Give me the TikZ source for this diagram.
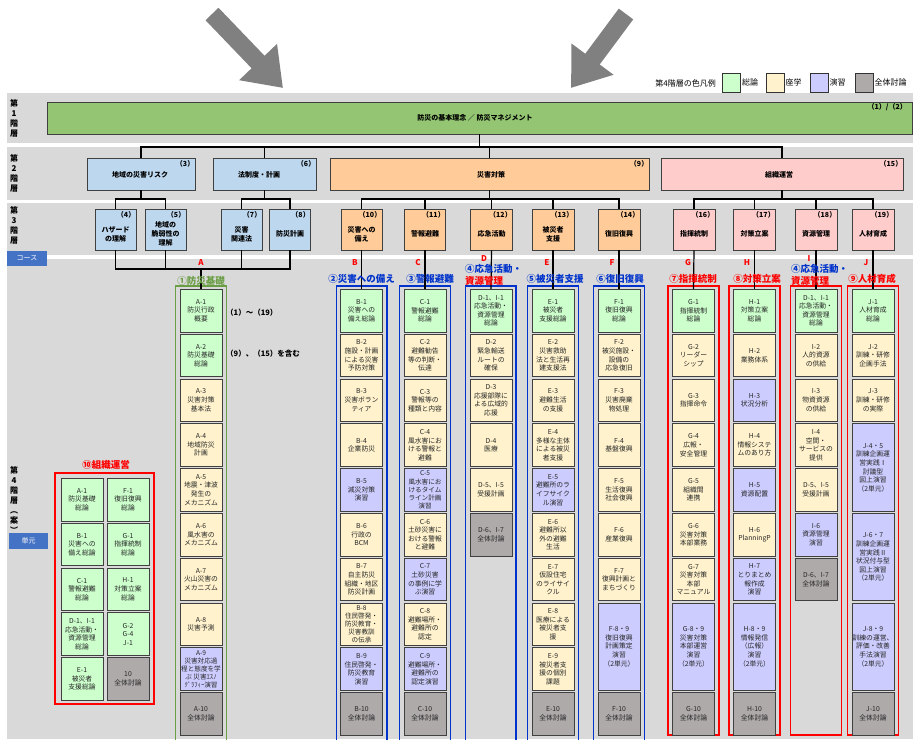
\documentclass[tikz,border=0pt]{standalone}
\usepackage{fontspec}
\setmainfont{Noto Sans CJK JP}
\usetikzlibrary{arrows.meta}

\definecolor{kaiso}{HTML}{93C572}
\definecolor{chiiki}{HTML}{BDD7EE}
\definecolor{saigai}{HTML}{FFCC99}
\definecolor{soshiki}{HTML}{FFCCCC}
\definecolor{sogo}{HTML}{CCFFCC}
\definecolor{zagaku}{HTML}{FFF2CC}
\definecolor{ensyu}{HTML}{CCCCFF}
\definecolor{togi}{HTML}{AEAAAA}
\definecolor{band}{HTML}{D9D9D9}
\definecolor{course}{HTML}{4472C4}
\definecolor{midori}{HTML}{6A9E45}
\definecolor{ao}{HTML}{0033CC}
\definecolor{aka}{HTML}{FF0000}

\newcommand{\unitfont}{\fontsize{6.8}{8.6}\selectfont}
\newcommand{\tightfont}{\fontsize{6.6}{8.1}\selectfont}
\newcommand{\ytop}{289}
% one lecture slot / two lecture slots
\newcommand{\koma}[5]{\node[unitbox,#4] (#1) at (#2,{\ytop+(#3-1)*44.8}) {#5};}
\newcommand{\komaw}[5]{\node[unitbox,#4,minimum height=87.3pt] (#1) at (#2,{\ytop+(#3-1)*44.8}) {#5};}

\tikzset{
  tier/.style={draw=black!75, line width=0.9pt, inner sep=0pt},
  unitbox/.style={draw=black!75, line width=1pt, minimum width=42pt, minimum height=42.5pt,
    inner sep=0pt, anchor=north, align=center, font=\unitfont, text=black!85},
  tree/.style={line width=1.2pt},
  frame/.style={line width=1.4pt},
  headtext/.style={font=\fontsize{7}{9}\selectfont\bfseries, align=center, inner sep=0pt},
  numtext/.style={font=\fontsize{7}{9}\selectfont\bfseries, inner sep=0pt, anchor=north east},
  ttl/.style={font=\fontsize{9.5}{11}\selectfont\bfseries, inner sep=0pt},
  letter/.style={font=\fontsize{8}{9}\selectfont\bfseries, text=aka, inner sep=0pt},
  rowlbl/.style={font=\fontsize{8}{10}\selectfont\bfseries, align=center, inner sep=0pt},
  tag/.style={fill=course, text=white, font=\fontsize{7}{8}\selectfont, inner sep=0pt},
  legtext/.style={font=\fontsize{8}{9}\selectfont, inner sep=1pt},
  legbox/.style={draw=black!80, line width=0.6pt, minimum width=18pt, minimum height=19pt, inner sep=0pt},
  note/.style={font=\fontsize{7.5}{9}\selectfont\bfseries, inner sep=0pt, anchor=west},
  bigarrow/.style={draw=gray, line width=18pt, -{Triangle[length=36pt,width=50pt]}}
}

\begin{document}
\begin{tikzpicture}[x=1pt,y=-1pt]
\useasboundingbox (0,0) rectangle (913,739);

% bands
\fill[band] (7,93) rectangle (913,143);
\fill[band] (7,147) rectangle (913,200);
\fill[band] (7,203) rectangle (913,255);
\fill[band] (7,259) rectangle (913,739);

% big arrows
\draw[bigarrow] (212,14) -- (283,88);
\draw[bigarrow] (626,14) -- (571,88);

% legend
\node[legtext, anchor=east] (leg) at (717,83) {第4階層の色凡例};
\node[legbox, fill=sogo] (leg1) at (731.5,82.5) {};
\node[legtext, anchor=west] (leg1t) at (leg1.east) {総論};
\node[legbox, fill=zagaku] (leg2) at (775,82.5) {};
\node[legtext, anchor=west] (leg2t) at (leg2.east) {座学};
\node[legbox, fill=ensyu] (leg3) at (819,82.5) {};
\node[legtext, anchor=west] (leg3t) at (leg3.east) {演習};
\node[legbox, fill=togi] (leg4) at (864,82.5) {};
\node[legtext, anchor=west] (leg4t) at (leg4.east) {全体討論};

% row labels
\node[rowlbl] (r1) at (14,118.5) {第\\1\\階\\層};
\node[rowlbl] (r2) at (14,173) {第\\2\\階\\層};
\node[rowlbl] (r3) at (14,225) {第\\3\\階\\層};
\node[rowlbl] (r4) at (14,500) {第\\4\\階\\層\\︵\\案\\︶};
\node[tag, minimum width=40pt, minimum height=15pt] (course) at (27,258.5) {コース};
\node[tag, minimum width=39pt, minimum height=16pt] (tangen) at (28.5,541) {単元};

% tier 1
\node[tier, fill=kaiso, minimum width=865pt, minimum height=32pt] (s1) at (479.5,118) {};
\node[headtext] (s1t) at (475,118) {防災の基本理念 ／ 防災マネジメント};
\node[numtext] (s1n) at (907,103) {（1）/（2）};

% tier 2
\node[tier, fill=chiiki, minimum width=108pt, minimum height=32pt] (s3) at (141,174) {};
\node[tier, fill=chiiki, minimum width=103pt, minimum height=32pt] (s6) at (264.5,174) {};
\node[tier, fill=saigai, minimum width=319pt, minimum height=32pt] (s9) at (489.5,174) {};
\node[tier, fill=soshiki, minimum width=242pt, minimum height=32pt] (s15) at (782,174) {};
\node[headtext] (s3t) at (140,175) {地域の災害リスク};
\node[headtext] (s6t) at (259,175) {法制度・計画};
\node[headtext] (s9t) at (491,175) {災害対策};
\node[headtext] (s15t) at (779,175) {組織運営};
\node[numtext] (s3n) at ([xshift=-1pt,yshift=-3pt]s3.north east) {（3）};
\node[numtext] (s6n) at ([xshift=-1pt,yshift=-3pt]s6.north east) {（6）};
\node[numtext] (s9n) at ([xshift=-1pt,yshift=-3pt]s9.north east) {（9）};
\node[numtext] (s15n) at ([xshift=-1pt,yshift=-3pt]s15.north east) {（15）};

% tier 3
\node[tier, fill=chiiki, minimum width=41pt, minimum height=41pt] (t4) at (115.5,229.5) {};
\node[tier, fill=chiiki, minimum width=41pt, minimum height=41pt] (t5) at (165.5,229.5) {};
\node[tier, fill=chiiki, minimum width=41pt, minimum height=41pt] (t7) at (241.5,229.5) {};
\node[tier, fill=chiiki, minimum width=41pt, minimum height=41pt] (t8) at (290,229.5) {};
\node[tier, fill=saigai, minimum width=41pt, minimum height=41pt] (t10) at (361.5,229.5) {};
\node[tier, fill=saigai, minimum width=41pt, minimum height=41pt] (t11) at (425,229.5) {};
\node[tier, fill=saigai, minimum width=42pt, minimum height=41pt] (t12) at (491.5,229.5) {};
\node[tier, fill=saigai, minimum width=42pt, minimum height=41pt] (t13) at (553,229.5) {};
\node[tier, fill=saigai, minimum width=42pt, minimum height=41pt] (t14) at (619,229.5) {};
\node[tier, fill=soshiki, minimum width=42pt, minimum height=41pt] (t16) at (694,229.5) {};
\node[tier, fill=soshiki, minimum width=42pt, minimum height=41pt] (t17) at (754.5,229.5) {};
\node[tier, fill=soshiki, minimum width=42pt, minimum height=41pt] (t18) at (816,229.5) {};
\node[tier, fill=soshiki, minimum width=42pt, minimum height=41pt] (t19) at (873,229.5) {};
\node[headtext] (t4t) at ([yshift=-4.5pt]t4.center) {ハザード\\の理解};
\node[headtext] (t5t) at ([yshift=-4.5pt]t5.center) {地域の\\脆弱性の\\理解};
\node[headtext] (t7t) at ([yshift=-4.5pt]t7.center) {災害\\関連法};
\node[headtext] (t8t) at ([yshift=-4.5pt]t8.center) {防災計画};
\node[headtext] (t10t) at ([yshift=-4.5pt]t10.center) {災害への\\備え};
\node[headtext] (t11t) at ([yshift=-4.5pt]t11.center) {警報避難};
\node[headtext] (t12t) at ([yshift=-4.5pt]t12.center) {応急活動};
\node[headtext] (t13t) at ([yshift=-4.5pt]t13.center) {被災者\\支援};
\node[headtext] (t14t) at ([yshift=-4.5pt]t14.center) {復旧復興};
\node[headtext] (t16t) at ([yshift=-4.5pt]t16.center) {指揮統制};
\node[headtext] (t17t) at ([yshift=-4.5pt]t17.center) {対策立案};
\node[headtext] (t18t) at ([yshift=-4.5pt]t18.center) {資源管理};
\node[headtext] (t19t) at ([yshift=-4.5pt]t19.center) {人材育成};
\node[numtext] (t4n) at ([xshift=-1pt,yshift=-3pt]t4.north east) {（4）};
\node[numtext] (t5n) at ([xshift=-1pt,yshift=-3pt]t5.north east) {（5）};
\node[numtext] (t7n) at ([xshift=-1pt,yshift=-3pt]t7.north east) {（7）};
\node[numtext] (t8n) at ([xshift=-1pt,yshift=-3pt]t8.north east) {（8）};
\node[numtext] (t10n) at ([xshift=-1pt,yshift=-3pt]t10.north east) {（10）};
\node[numtext] (t11n) at ([xshift=-1pt,yshift=-3pt]t11.north east) {（11）};
\node[numtext] (t12n) at ([xshift=-1pt,yshift=-3pt]t12.north east) {（12）};
\node[numtext] (t13n) at ([xshift=-1pt,yshift=-3pt]t13.north east) {（13）};
\node[numtext] (t14n) at ([xshift=-1pt,yshift=-3pt]t14.north east) {（14）};
\node[numtext] (t16n) at ([xshift=-1pt,yshift=-3pt]t16.north east) {（16）};
\node[numtext] (t17n) at ([xshift=-1pt,yshift=-3pt]t17.north east) {（17）};
\node[numtext] (t18n) at ([xshift=-1pt,yshift=-3pt]t18.north east) {（18）};
\node[numtext] (t19n) at ([xshift=-1pt,yshift=-3pt]t19.north east) {（19）};

% column frames
\draw[frame, draw=midori] (175.5,286) rectangle (226.5,741);
\draw[frame, draw=ao] (336.5,286) rectangle (387,741);
\draw[frame, draw=ao] (399.5,286) rectangle (450.5,741);
\draw[frame, draw=ao] (465.5,286) rectangle (516,741);
\draw[frame, draw=ao] (527.5,286) rectangle (578.5,741);
\draw[frame, draw=ao] (593.5,286) rectangle (644.5,741);
\draw[frame, draw=aka] (668,286) rectangle (719,735);
\draw[frame, draw=aka] (729,286) rectangle (780,735);
\draw[frame, draw=aka] (790.5,286) rectangle (841.5,735);
\draw[frame, draw=aka] (847.5,286) rectangle (898.5,735);
\draw[frame, draw=aka] (55,473) rectangle (154,704);

% units A--J
\koma{a1}{201}{1}{fill=sogo}{A-1\\防災行政\\概要}
\koma{a2}{201}{2}{fill=sogo}{A-2\\防災基礎\\総論}
\koma{a3}{201}{3}{fill=zagaku}{A-3\\災害対策\\基本法}
\koma{a4}{201}{4}{fill=zagaku}{A-4\\地域防災\\計画}
\koma{a5}{201}{5}{fill=zagaku}{A-5\\地震・津波\\発生の\\メカニズム}
\koma{a6}{201}{6}{fill=zagaku}{A-6\\風水害の\\メカニズム}
\koma{a7}{201}{7}{fill=zagaku}{A-7\\火山災害の\\メカニズム}
\koma{a8}{201}{8}{fill=zagaku}{A-8\\災害予測}
\koma{a9}{201}{9}{fill=ensyu,font=\tightfont}{A-9\\災害対応過\\程と態度を学\\ぶ 災害ｴｽﾉ\\ｸﾞﾗﾌｨｰ演習}
\koma{a10}{201}{10}{fill=togi}{A-10\\全体討論}

\koma{b1}{361.5}{1}{fill=sogo}{B-1\\災害への\\備え総論}
\koma{b2}{361.5}{2}{fill=zagaku}{B-2\\施設・計画\\による災害\\予防対策}
\koma{b3}{361.5}{3}{fill=zagaku}{B-3\\災害ボラン\\ティア}
\koma{b4}{361.5}{4}{fill=zagaku}{B-4\\企業防災}
\koma{b5}{361.5}{5}{fill=ensyu}{B-5\\減災対策\\演習}
\koma{b6}{361.5}{6}{fill=zagaku}{B-6\\行政の\\BCM}
\koma{b7}{361.5}{7}{fill=zagaku}{B-7\\自主防災\\組織・地区\\防災計画}
\koma{b8}{361.5}{8}{fill=zagaku,font=\tightfont}{B-8\\住民啓発・\\防災教育・\\災害教訓\\の伝承}
\koma{b9}{361.5}{9}{fill=ensyu}{B-9\\住民啓発・\\防災教育\\演習}
\koma{b10}{361.5}{10}{fill=togi}{B-10\\全体討論}

\koma{c1}{425}{1}{fill=sogo}{C-1\\警報避難\\総論}
\koma{c2}{425}{2}{fill=zagaku}{C-2\\避難勧告\\等の判断・\\伝達}
\koma{c3}{425}{3}{fill=zagaku}{C-3\\警報等の\\種類と内容}
\koma{c4}{425}{4}{fill=zagaku}{C-4\\風水害にお\\ける警報と\\避難}
\koma{c5}{425}{5}{fill=ensyu,font=\tightfont}{C-5\\風水害にお\\けるタイム\\ライン計画\\演習}
\koma{c6}{425}{6}{fill=zagaku}{C-6\\土砂災害に\\おける警報\\と避難}
\koma{c7}{425}{7}{fill=ensyu}{C-7\\土砂災害\\の事例に学\\ぶ演習}
\koma{c8}{425}{8}{fill=zagaku}{C-8\\避難場所・\\避難所の\\認定}
\koma{c9}{425}{9}{fill=ensyu}{C-9\\避難場所・\\避難所の\\認定演習}
\koma{c10}{425}{10}{fill=togi}{C-10\\全体討論}

\koma{d1}{491}{1}{fill=sogo}{D-1、I-1\\応急活動・\\資源管理\\総論}
\koma{d2}{491}{2}{fill=zagaku}{D-2\\緊急輸送\\ルートの\\確保}
\koma{d3}{491}{3}{fill=zagaku}{D-3\\応援部隊に\\よる広域的\\応援}
\koma{d4}{491}{4}{fill=zagaku}{D-4\\医療}
\koma{d5}{491}{5}{fill=zagaku}{D-5、I-5\\受援計画}
\koma{d6}{491}{6}{fill=togi}{D-6、I-7\\全体討論}

\koma{e1}{553}{1}{fill=sogo}{E-1\\被災者\\支援総論}
\koma{e2}{553}{2}{fill=zagaku}{E-2\\災害救助\\法と生活再\\建支援法}
\koma{e3}{553}{3}{fill=zagaku}{E-3\\避難生活\\の支援}
\koma{e4}{553}{4}{fill=zagaku}{E-4\\多様な主体\\による被災\\者支援}
\koma{e5}{553}{5}{fill=ensyu}{E-5\\避難所のラ\\イフサイク\\ル演習}
\koma{e6}{553}{6}{fill=zagaku}{E-6\\避難所以\\外の避難\\生活}
\koma{e7}{553}{7}{fill=zagaku}{E-7\\仮設住宅\\のライサイ\\クル}
\koma{e8}{553}{8}{fill=zagaku}{E-8\\医療による\\被災者支\\援}
\koma{e9}{553}{9}{fill=zagaku}{E-9\\被災者支\\援の個別\\課題}
\koma{e10}{553}{10}{fill=togi}{E-10\\全体討論}

\koma{f1}{619}{1}{fill=sogo}{F-1\\復旧復興\\総論}
\koma{f2}{619}{2}{fill=zagaku}{F-2\\被災施設・\\設備の\\応急復旧}
\koma{f3}{619}{3}{fill=zagaku}{F-3\\災害廃棄\\物処理}
\koma{f4}{619}{4}{fill=zagaku}{F-4\\基盤復興}
\koma{f5}{619}{5}{fill=zagaku}{F-5\\生活復興\\社会復興}
\koma{f6}{619}{6}{fill=zagaku}{F-6\\産業復興}
\koma{f7}{619}{7}{fill=zagaku}{F-7\\復興計画と\\まちづくり}
\komaw{f8}{619}{8}{fill=ensyu}{F-8・9\\復旧復興\\計画策定\\演習\\（2単元）}
\koma{f10}{619}{10}{fill=togi}{F-10\\全体討論}

\koma{g1}{693.5}{1}{fill=sogo}{G-1\\指揮統制\\総論}
\koma{g2}{693.5}{2}{fill=zagaku}{G-2\\リーダー\\シップ}
\koma{g3}{693.5}{3}{fill=zagaku}{G-3\\指揮命令}
\koma{g4}{693.5}{4}{fill=zagaku}{G-4\\広報・\\安全管理}
\koma{g5}{693.5}{5}{fill=zagaku}{G-5\\組織間\\連携}
\koma{g6}{693.5}{6}{fill=zagaku}{G-6\\災害対策\\本部業務}
\koma{g7}{693.5}{7}{fill=zagaku}{G-7\\災害対策\\本部\\マニュアル}
\komaw{g8}{693.5}{8}{fill=ensyu}{G-8・9\\災害対策\\本部運営\\演習\\（2単元）}
\koma{g10}{693.5}{10}{fill=togi}{G-10\\全体討論}

\koma{h1}{754.5}{1}{fill=sogo}{H-1\\対策立案\\総論}
\koma{h2}{754.5}{2}{fill=zagaku}{H-2\\業務体系}
\koma{h3}{754.5}{3}{fill=ensyu}{H-3\\状況分析}
\koma{h4}{754.5}{4}{fill=zagaku}{H-4\\情報システ\\ムのあり方}
\koma{h5}{754.5}{5}{fill=ensyu}{H-5\\資源配置}
\koma{h6}{754.5}{6}{fill=zagaku}{H-6\\PlanningP}
\koma{h7}{754.5}{7}{fill=ensyu}{H-7\\とりまとめ\\報作成\\演習}
\komaw{h8}{754.5}{8}{fill=ensyu}{H-8・9\\情報発信\\（広報）\\演習\\（2単元）}
\koma{h10}{754.5}{10}{fill=togi}{H-10\\全体討論}

\koma{i1}{816}{1}{fill=sogo}{D-1、I-1\\応急活動・\\資源管理\\総論}
\koma{i2}{816}{2}{fill=zagaku}{I-2\\人的資源\\の供給}
\koma{i3}{816}{3}{fill=zagaku}{I-3\\物資資源\\の供給}
\koma{i4}{816}{4}{fill=zagaku}{I-4\\空間・\\サービスの\\提供}
\koma{i5}{816}{5}{fill=zagaku}{D-5、I-5\\受援計画}
\koma{i6}{816}{6}{fill=ensyu}{I-6\\資源管理\\演習}
\koma{i7}{816}{7}{fill=togi}{D-6、I-7\\全体討論}

\koma{j1}{873}{1}{fill=sogo}{J-1\\人材育成\\総論}
\koma{j2}{873}{2}{fill=zagaku}{J-2\\訓練・研修\\企画手法}
\koma{j3}{873}{3}{fill=zagaku}{J-3\\訓練・研修\\の実際}
\komaw{j4}{873}{4}{fill=ensyu}{J-4・5\\訓練企画運\\営実践Ⅰ\\討議型\\図上演習\\（2単元）}
\komaw{j6}{873}{6}{fill=ensyu}{J-6・7\\訓練企画運\\営実践Ⅱ\\状況付与型\\図上演習\\（2単元）}
\komaw{j8}{873}{8}{fill=ensyu}{J-8・9\\訓練の運営、\\評価・改善\\手法演習\\（2単元）}
\koma{j10}{873}{10}{fill=togi}{J-10\\全体討論}

% units of the left box
\renewcommand{\ytop}{478}
\koma{k1}{82}{1}{fill=sogo}{A-1\\防災基礎\\総論}
\koma{k2}{82}{2}{fill=sogo}{B-1\\災害への\\備え総論}
\koma{k3}{82}{3}{fill=sogo}{C-1\\警報避難\\総論}
\koma{k4}{82}{4}{fill=sogo}{D-1、I-1\\応急活動・\\資源管理\\総論}
\koma{k5}{82}{5}{fill=sogo}{E-1\\被災者\\支援総論}
\koma{k6}{128}{1}{fill=sogo}{F-1\\復旧復興\\総論}
\koma{k7}{128}{2}{fill=sogo}{G-1\\指揮統制\\総論}
\koma{k8}{128}{3}{fill=sogo}{H-1\\対策立案\\総論}
\koma{k9}{128}{4}{fill=sogo}{G-2\\G-4\\J-1}
\koma{k10}{128}{5}{fill=togi}{10\\全体討論}

% tree
\coordinate (jn1) at (479.5,147);
\draw[tree] (s1.south) -- (jn1);
\draw[tree] (s3.north) |- (jn1) -| (s15.north);
\draw[tree] (s6.north) -- (s6.north |- jn1);
\draw[tree] (s9.north) -- (s9.north |- jn1);
\coordinate (jn3) at (141,199);
\draw[tree] (s3.south) -- (jn3);
\draw[tree] (t4.north) |- (jn3) -| (t5.north);
\coordinate (jn6) at (264.5,199);
\draw[tree] (s6.south) -- (jn6);
\draw[tree] (t7.north) |- (jn6) -| (t8.north);
\coordinate (jn9) at (489.5,199);
\draw[tree] (s9.south) -- (jn9);
\draw[tree] (t10.north) |- (jn9) -| (t14.north);
\draw[tree] (t11.north) -- (t11.north |- jn9);
\draw[tree] (t12.north) -- (t12.north |- jn9);
\draw[tree] (t13.north) -- (t13.north |- jn9);
\coordinate (jn15) at (782,199);
\draw[tree] (s15.south) -- (jn15);
\draw[tree] (t16.north) |- (jn15) -| (t19.north);
\draw[tree] (t17.north) -- (t17.north |- jn15);
\draw[tree] (t18.north) -- (t18.north |- jn15);
\coordinate (jna) at (201,269);
\draw[tree] (t4.south) |- (jna) -| (t8.south);
\draw[tree] (t5.south) -- (t5.south |- jna);
\draw[tree] (t7.south) -- (t7.south |- jna);
\draw[tree] (jna) -- (a1.north);
\draw[tree] (t10.south) -- (b1.north);
\draw[tree] (t11.south) -- (c1.north);
\draw[tree] (t12.south) -- (d1.north);
\draw[tree] (t13.south) -- (e1.north);
\draw[tree] (t14.south) -- (f1.north);
\draw[tree] (t16.south) -- (g1.north);
\draw[tree] (t17.south) -- (h1.north);
\draw[tree] (t18.south) -- (i1.north);
\draw[tree] (t19.south) -- (j1.north);

% course letters
\node[letter] (la) at (201,263) {A};
\node[letter] (lb) at (355,263) {B};
\node[letter] (lc) at (418,263) {C};
\node[letter] (ld) at (484,258.5) {D};
\node[letter] (le) at (547,263) {E};
\node[letter] (lf) at (612,263) {F};
\node[letter] (lg) at (688,263) {G};
\node[letter] (lh) at (747,263) {H};
\node[letter] (li) at (809,258.5) {I};
\node[letter] (lj) at (866,263) {J};

% course titles
\node[ttl, text=midori] (ta) at (201,281) {①防災基礎};
\node[ttl, text=ao] (tb) at (361.5,279) {②災害への備え};
\node[ttl, text=ao] (tc) at (430,279) {③警報避難};
\node[ttl, text=ao, anchor=west] (td1) at (465,269) {④応急活動・};
\node[ttl, text=aka, anchor=west] (td2) at (465,281) {資源管理};
\node[ttl, text=ao] (te) at (555,279) {⑤被災者支援};
\node[ttl, text=ao] (tf) at (620,279) {⑥復旧復興};
\node[ttl, text=aka] (tg) at (693,279) {⑦指揮統制};
\node[ttl, text=aka] (th) at (757,279) {⑧対策立案};
\node[ttl, text=ao, anchor=west] (ti1) at (791,269) {④応急活動・};
\node[ttl, text=aka, anchor=west] (ti2) at (791,281) {資源管理};
\node[ttl, text=aka] (tj) at (872,279) {⑨人材育成};
\node[ttl, text=aka] (tk) at (106,465) {⑩組織運営};

% notes
\node[note] (n1) at (226,313) {（1）～（19）};
\node[note] (n2) at (226,354) {（9）、（15）を含む};
\end{tikzpicture}
\end{document}
